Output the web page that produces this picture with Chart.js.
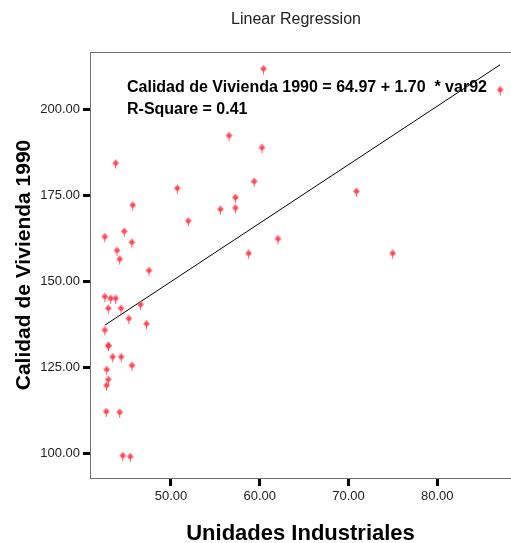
<!DOCTYPE html>
<html>
<head>
<meta charset="utf-8">
<script src="https://cdn.jsdelivr.net/npm/chart.js@4/dist/chart.umd.min.js"></script>
<style>
html,body{margin:0;padding:0;background:#fff;overflow:hidden;width:511px;height:543px}
canvas{display:block}
</style>
</head>
<body>
<canvas id="regChart" width="517" height="543"></canvas>
<script>
/* datos */
const unidades=[43.77,50.71,45.69,51.95,44.74,42.55,45.59,43.92,44.22,47.52,
  42.55,43.21,43.77,42.94,44.37,46.57,45.25,47.24,42.55,42.94,
  42.97,43.43,44.39,45.61,42.76,42.94,42.74,42.71,44.22,44.57,
  45.41,60.42,56.55,60.25,59.37,57.26,55.57,57.26,62.05,58.74,
  70.89,74.97,87.08];
const vivienda=[184.4,177.1,172.2,167.6,164.6,163.0,161.4,159.0,156.5,153.2,
  145.6,145.1,145.1,142.2,142.2,143.3,139.2,137.7,135.9,131.3,
  131.4,128.1,128.1,125.6,124.4,121.5,119.8,112.2,112.0,99.4,
  99.1,211.8,192.4,188.9,179.1,174.4,171.0,171.4,162.4,158.2,
  176.2,158.2,205.7];
const fitX=[42.55,87.08];
const fitY=[137.3,213.0];
const xTicks=[50,60,70,80];
const yTicks=[100,125,150,175,200];
const titulo='Linear Regression';
const ecuacion='Calidad de Vivienda 1990 = 64.97 + 1.70  * var92';
const rCuadrado='R-Square = 0.41';

/* marcador rombo con palito */
function marker(){
  const c=document.createElement('canvas');c.width=11;c.height=17;
  const g=c.getContext('2d');
  g.fillStyle='rgba(255,70,85,0.85)';
  g.fillRect(5,8,1,6);
  g.beginPath();g.moveTo(5.5,4.5);g.lineTo(9,8.5);g.lineTo(5.5,12);g.lineTo(2,8.5);g.closePath();
  g.fillStyle='rgba(255,75,90,0.8)';g.fill();
  g.fillStyle='rgba(255,50,65,0.6)';g.fillRect(4,7,3,3);
  return c;
}

const pts=unidades.map((x,i)=>({x,y:vivienda[i]}));
const fit=fitX.map((x,i)=>({x,y:fitY[i]}));

/* textos y marco superior */
Chart.register({
  id:'textos',
  afterDraw(c){
    const g=c.ctx,{left,top}=c.chartArea;
    g.save();
    g.strokeStyle='#6e6e6e';g.lineWidth=1;
    g.beginPath();g.moveTo(left,top+0.5);g.lineTo(c.width,top+0.5);g.stroke();
    g.fillStyle='#222';g.font='16px "Liberation Sans", Arial, sans-serif';
    g.textAlign='center';g.textBaseline='middle';
    g.fillText(titulo,296,20);
    g.fillStyle='#000';g.font='bold 16px "Liberation Sans", Arial, sans-serif';
    g.textAlign='left';g.textBaseline='alphabetic';
    g.fillText(ecuacion,127,92);
    g.fillText(rCuadrado,127,113.5);
    g.restore();
  }
});

new Chart(document.getElementById('regChart'),{
  type:'scatter',
  data:{datasets:[
    {data:pts,pointStyle:marker(),pointRadius:5,pointHoverRadius:5},
    {type:'line',data:fit,borderColor:'#000',borderWidth:1,pointRadius:0,tension:0}
  ]},
  options:{
    responsive:false,animation:false,
    layout:{padding:{top:52,left:0,right:0,bottom:0}},
    plugins:{legend:{display:false},title:{display:false},tooltip:{enabled:false}},
    scales:{
      x:{
        type:'linear',min:40.88,max:88.3,
        afterBuildTicks:s=>{s.ticks=xTicks.map(v=>({value:v}));},
        afterFit:s=>{s.height=65;},
        ticks:{callback:v=>(+v).toFixed(2),color:'#222',padding:3,maxRotation:0,font:{size:13,family:'"Liberation Sans", Arial, sans-serif'}},
        grid:{drawOnChartArea:false,drawTicks:true,tickLength:8,tickWidth:3,tickColor:'#000'},
        border:{color:'#6e6e6e',width:1},
        title:{display:true,text:'Unidades Industriales',color:'#000',padding:0,
          font:{size:22,weight:'bold',lineHeight:0.8,family:'"Liberation Sans", Arial, sans-serif'}}
      },
      y:{
        type:'linear',min:92.9,max:216.7,
        afterBuildTicks:s=>{s.ticks=yTicks.map(v=>({value:v}));},
        afterFit:s=>{s.width=90;},
        ticks:{callback:v=>(+v).toFixed(2),color:'#222',padding:3,font:{size:13,family:'"Liberation Sans", Arial, sans-serif'}},
        grid:{drawOnChartArea:false,drawTicks:true,tickLength:7,tickWidth:3,tickColor:'#000'},
        border:{color:'#6e6e6e',width:1},
        title:{display:true,text:'Calidad de Vivienda 1990',color:'#000',padding:{top:12,bottom:0},
          font:{size:21,weight:'bold',family:'"Liberation Sans", Arial, sans-serif'}}
      }
    }
  }
});
</script>
</body>
</html>
